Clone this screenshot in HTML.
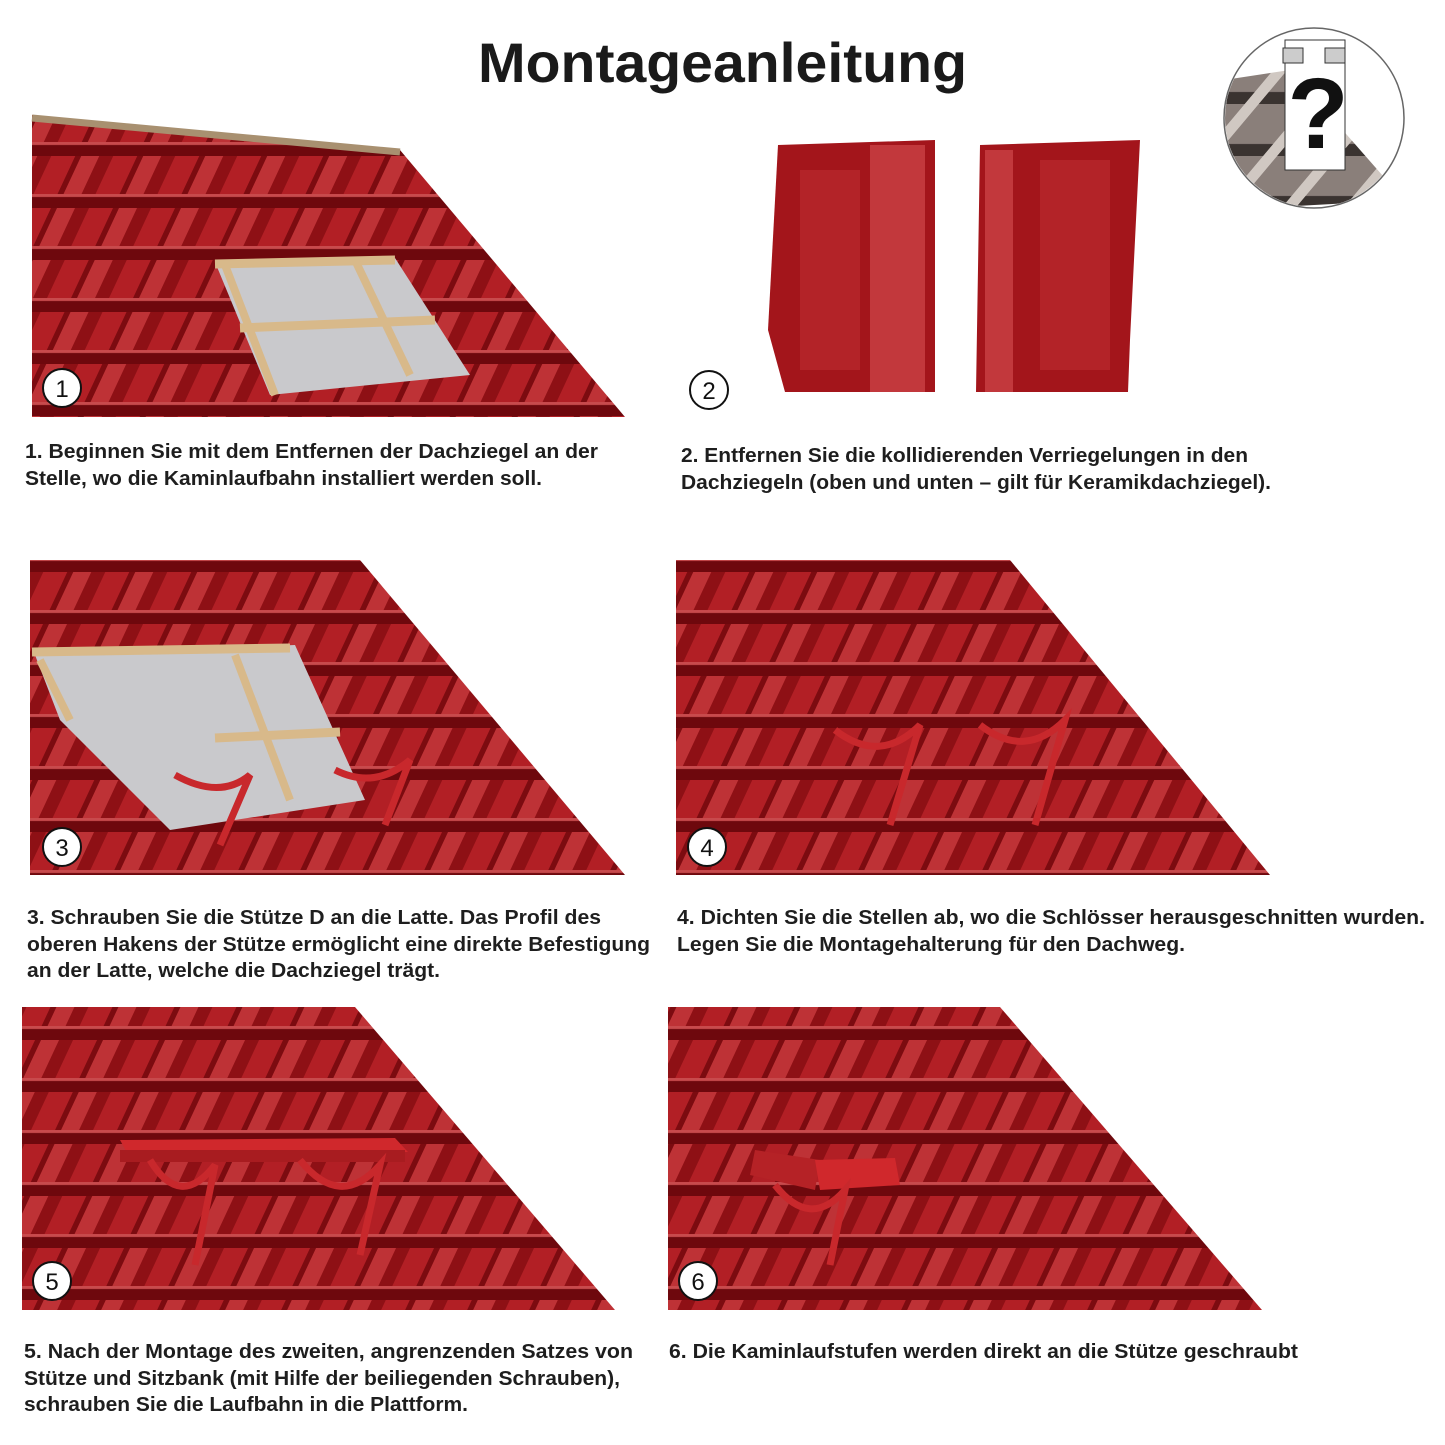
<!DOCTYPE html>
<html><head><meta charset="utf-8"><style>
html,body{margin:0;padding:0;background:#fff;}
svg{display:block}
text{font-family:"Liberation Sans",Arial,sans-serif;}
.t{font-size:20px;font-weight:bold;fill:#1e1e1e;}
.n{font-size:24px;fill:#111;text-anchor:middle;}
</style></head><body>
<svg width="1445" height="1445" viewBox="0 0 1445 1445" xmlns="http://www.w3.org/2000/svg">
<defs>
<pattern id="tile" width="62" height="52" patternUnits="userSpaceOnUse" patternTransform="skewX(-25)">
<rect width="62" height="52" fill="#a3151b"/>
<rect x="0" y="0" width="24" height="52" fill="#b21f25"/>
<rect x="24" y="0" width="6" height="52" fill="#7c0b10"/>
<rect x="30" y="0" width="18" height="52" fill="#be3236"/>
<rect x="48" y="0" width="14" height="52" fill="#8e1015"/>
<rect x="0" y="40" width="62" height="12" fill="#6e080d"/>
<rect x="0" y="38" width="62" height="3" fill="#c84a4d"/>
</pattern>
<pattern id="tile2" width="62" height="52" patternUnits="userSpaceOnUse" patternTransform="skewX(-40)">
<rect width="62" height="52" fill="#8a7f7a"/>
<rect x="0" y="40" width="62" height="12" fill="#3a3330"/>
<rect x="30" y="0" width="14" height="52" fill="#d0c8c2"/>
</pattern>
</defs>
<text x="478" y="82" font-size="56" font-weight="bold" fill="#1a1a1a" textLength="489" lengthAdjust="spacingAndGlyphs">Montageanleitung</text>

<circle cx="1314" cy="118" r="90" fill="#fff" stroke="#666" stroke-width="1.5"/>
<clipPath id="cc"><circle cx="1314" cy="118" r="89"/></clipPath>
<g clip-path="url(#cc)">
<polygon points="1224,80 1290,70 1404,200 1224,210" fill="url(#tile2)"/>
<rect x="1285" y="40" width="60" height="130" fill="#fff" stroke="#333"/>
<rect x="1283" y="48" width="20" height="15" fill="#ccc" stroke="#333"/>
<rect x="1325" y="48" width="20" height="15" fill="#ccc" stroke="#333"/>
<text x="1318" y="148" font-size="100" font-weight="bold" text-anchor="middle" fill="#111">?</text>
</g>

<polygon points="32,115 400,150 625,417 32,417" fill="url(#tile)"/>
<line x1="32" y1="118" x2="400" y2="152" stroke="#a89070" stroke-width="7"/>
<polygon points="215,262 395,258 470,375 270,395" fill="#c9c9cc"/>
<line x1="215" y1="264" x2="395" y2="260" stroke="#d8b98a" stroke-width="9"/>
<line x1="240" y1="328" x2="435" y2="320" stroke="#d8b98a" stroke-width="9"/>
<line x1="225" y1="265" x2="275" y2="395" stroke="#d8b98a" stroke-width="8"/>
<line x1="355" y1="260" x2="410" y2="375" stroke="#d8b98a" stroke-width="8"/>
<circle cx="62" cy="388" r="19" fill="#fff" stroke="#111" stroke-width="2"/><text class="n" x="62" y="397">1</text>
<text class="t" x="25" y="458" textLength="573" lengthAdjust="spacingAndGlyphs">1. Beginnen Sie mit dem Entfernen der Dachziegel an der</text>
<text class="t" x="25" y="485" textLength="517" lengthAdjust="spacingAndGlyphs">Stelle, wo die Kaminlaufbahn installiert werden soll.</text>

<path d="M778,145 L935,140 L935,392 L785,392 L768,330 Z" fill="#a3151b"/>
<rect x="870" y="145" width="55" height="247" fill="#c2383c"/>
<rect x="800" y="170" width="60" height="200" fill="#b32328"/>
<path d="M980,145 L1140,140 L1130,340 L1128,392 L976,392 Z" fill="#a3151b"/>
<rect x="985" y="150" width="28" height="242" fill="#c2383c"/>
<rect x="1040" y="160" width="70" height="210" fill="#b32328"/>
<circle cx="709" cy="390" r="19" fill="#fff" stroke="#111" stroke-width="2"/><text class="n" x="709" y="399">2</text>
<text class="t" x="681" y="462" textLength="567" lengthAdjust="spacingAndGlyphs">2. Entfernen Sie die kollidierenden Verriegelungen in den</text>
<text class="t" x="681" y="489" textLength="590" lengthAdjust="spacingAndGlyphs">Dachziegeln (oben und unten – gilt für Keramikdachziegel).</text>

<polygon points="30,560 360,560 625,875 30,875" fill="url(#tile)"/>
<polygon points="35,655 295,645 365,800 170,830 60,720" fill="#c9c9cc"/>
<line x1="32" y1="652" x2="290" y2="648" stroke="#d8b98a" stroke-width="9"/>
<line x1="215" y1="738" x2="340" y2="732" stroke="#d8b98a" stroke-width="9"/>
<line x1="40" y1="660" x2="70" y2="720" stroke="#d8b98a" stroke-width="8"/>
<line x1="235" y1="655" x2="290" y2="800" stroke="#d8b98a" stroke-width="8"/>
<path d="M175,775 Q220,800 250,775 L220,845" stroke="#c8282c" stroke-width="7" fill="none"/>
<path d="M335,770 Q375,790 410,760 L385,825" stroke="#c8282c" stroke-width="7" fill="none"/>
<circle cx="62" cy="847" r="19" fill="#fff" stroke="#111" stroke-width="2"/><text class="n" x="62" y="856">3</text>
<text class="t" x="27" y="924" textLength="574" lengthAdjust="spacingAndGlyphs">3. Schrauben Sie die Stütze D an die Latte. Das Profil des</text>
<text class="t" x="27" y="951" textLength="623" lengthAdjust="spacingAndGlyphs">oberen Hakens der Stütze ermöglicht eine direkte Befestigung</text>
<text class="t" x="27" y="977" textLength="413" lengthAdjust="spacingAndGlyphs">an der Latte, welche die Dachziegel trägt.</text>

<polygon points="676,560 1010,560 1270,875 676,875" fill="url(#tile)"/>
<path d="M835,730 Q880,765 920,725 L890,825" stroke="#c8282c" stroke-width="7" fill="none"/>
<path d="M980,725 Q1025,760 1065,720 L1035,825" stroke="#c8282c" stroke-width="7" fill="none"/>
<circle cx="707" cy="847" r="19" fill="#fff" stroke="#111" stroke-width="2"/><text class="n" x="707" y="856">4</text>
<text class="t" x="677" y="924" textLength="748" lengthAdjust="spacingAndGlyphs">4. Dichten Sie die Stellen ab, wo die Schlösser herausgeschnitten wurden.</text>
<text class="t" x="677" y="951" textLength="508" lengthAdjust="spacingAndGlyphs">Legen Sie die Montagehalterung für den Dachweg.</text>

<polygon points="22,1007 355,1007 615,1310 22,1310" fill="url(#tile)"/>
<polygon points="120,1140 395,1138 408,1152 130,1158" fill="#d0282c"/>
<rect x="120" y="1150" width="285" height="12" fill="#a81c20"/>
<path d="M150,1160 Q180,1210 215,1165 L195,1265" stroke="#c8282c" stroke-width="7" fill="none"/>
<path d="M300,1160 Q340,1210 380,1165 L360,1255" stroke="#c8282c" stroke-width="7" fill="none"/>
<circle cx="52" cy="1281" r="19" fill="#fff" stroke="#111" stroke-width="2"/><text class="n" x="52" y="1290">5</text>
<text class="t" x="24" y="1358" textLength="609" lengthAdjust="spacingAndGlyphs">5. Nach der Montage des zweiten, angrenzenden Satzes von</text>
<text class="t" x="24" y="1385" textLength="596" lengthAdjust="spacingAndGlyphs">Stütze und Sitzbank (mit Hilfe der beiliegenden Schrauben),</text>
<text class="t" x="24" y="1411" textLength="444" lengthAdjust="spacingAndGlyphs">schrauben Sie die Laufbahn in die Plattform.</text>

<polygon points="668,1007 1000,1007 1262,1310 668,1310" fill="url(#tile)"/>
<polygon points="755,1150 820,1160 815,1190 750,1175" fill="#b52226"/>
<polygon points="815,1160 895,1158 900,1185 820,1190" fill="#d0282c"/>
<path d="M775,1185 Q810,1230 845,1190 L830,1265" stroke="#c8282c" stroke-width="7" fill="none"/>
<circle cx="698" cy="1281" r="19" fill="#fff" stroke="#111" stroke-width="2"/><text class="n" x="698" y="1290">6</text>
<text class="t" x="669" y="1358" textLength="629" lengthAdjust="spacingAndGlyphs">6. Die Kaminlaufstufen werden direkt an die Stütze geschraubt</text>
</svg>
</body></html>
